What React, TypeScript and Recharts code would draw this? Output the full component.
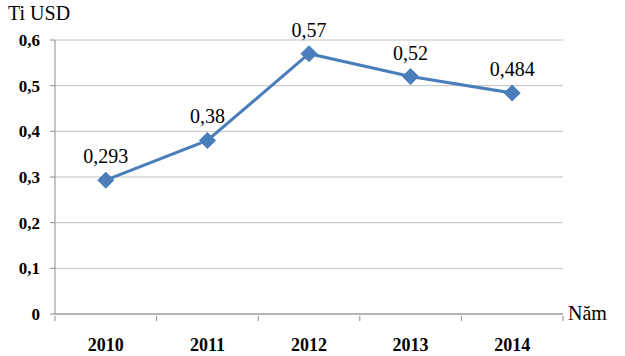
import { LineChart, Line, XAxis, YAxis, CartesianGrid, LabelList } from 'recharts';

const years = ['2010', '2011', '2012', '2013', '2014'];
const values = [0.293, 0.38, 0.57, 0.52, 0.484];
const valueLabels = ['0,293', '0,38', '0,57', '0,52', '0,484'];
const yTicks = [0, 0.1, 0.2, 0.3, 0.4, 0.5, 0.6];

const data = years.map((y, i) => ({ year: y, value: values[i], label: valueLabels[i] }));

const LINE_COLOR = '#4a7ebb';
const AXIS_COLOR = '#8c8c8c';
const FONT = "'Liberation Serif', 'Times New Roman', serif";

const PLOT_LEFT = 55;
const PLOT_RIGHT = 563;
const BAND = (PLOT_RIGHT - PLOT_LEFT) / years.length;

function Diamond(props: any) {
  const { cx, cy } = props;
  if (cx == null || cy == null) return null;
  const r = 8;
  return (
    <polygon
      points={`${cx},${cy - r} ${cx + r},${cy} ${cx},${cy + r} ${cx - r},${cy}`}
      fill={LINE_COLOR}
      stroke={LINE_COLOR}
    />
  );
}

// custom tick: label at band centre, tick marks on band edges
function XTick(props: any) {
  const { x, y, payload, index } = props;
  return (
    <g>
      <line x1={x - BAND / 2} x2={x - BAND / 2} y1={y} y2={y + 5} stroke={AXIS_COLOR} />
      {index === years.length - 1 && (
        <line x1={x + BAND / 2} x2={x + BAND / 2} y1={y} y2={y + 5} stroke={AXIS_COLOR} />
      )}
      <text
        x={x}
        y={y + 35}
        textAnchor="middle"
        fontFamily={FONT}
        fontWeight="bold"
        fontSize={18}
        fill="#000"
      >
        {payload.value}
      </text>
    </g>
  );
}

export default function App() {
  return (
    <div style={{ position: 'absolute', left: 0, top: 0, width: 625, height: 356, background: '#fff', fontFamily: FONT }}>
      <LineChart
        width={625}
        height={356}
        data={data}
        margin={{ top: 40, right: 62, left: 0, bottom: 12 }}
      >
        <CartesianGrid vertical={false} stroke="#c0c0c0" />
        <XAxis
          dataKey="year"
          scale="band"
          height={30}
          tickLine={false}
          tickSize={0}
          tick={<XTick />}
          axisLine={{ stroke: AXIS_COLOR }}
          interval={0}
        />
        <YAxis
          width={55}
          domain={[0, 0.6]}
          ticks={yTicks}
          interval={0}
          tickSize={5}
          tickMargin={10}
          tickLine={{ stroke: AXIS_COLOR }}
          axisLine={{ stroke: AXIS_COLOR }}
          tickFormatter={(v: number) => String(Math.round(v * 10) / 10).replace('.', ',')}
          tick={{ fontFamily: FONT, fontWeight: 'bold', fontSize: 17, fill: '#000' }}
        />
        <Line
          type="linear"
          dataKey="value"
          stroke={LINE_COLOR}
          strokeWidth={3}
          dot={<Diamond />}
          activeDot={false}
          isAnimationActive={false}
        >
          <LabelList
            dataKey="label"
            position="top"
            offset={17}
            fontFamily={FONT}
            fontSize={20}
            fill="#000"
          />
        </Line>
      </LineChart>
      <div style={{ position: 'absolute', left: 8, top: 1, fontSize: 20, lineHeight: '24px' }}>
        Ti USD
      </div>
      <div style={{ position: 'absolute', left: 568, top: 301, fontSize: 20, lineHeight: '24px' }}>
        Năm
      </div>
    </div>
  );
}
